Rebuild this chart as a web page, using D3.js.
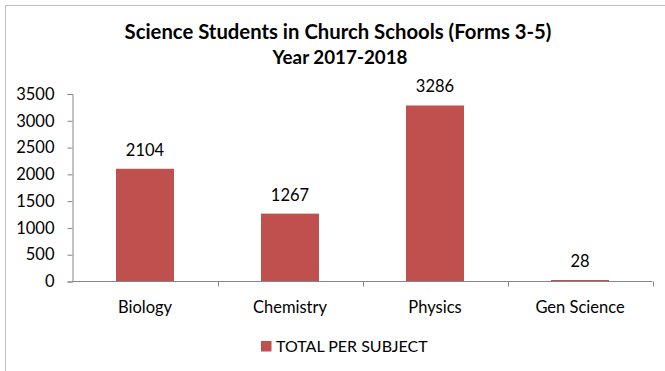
<!DOCTYPE html>
<html>
<head>
<meta charset="utf-8">
<script src="https://cdn.jsdelivr.net/npm/d3@7/dist/d3.min.js"></script>
<style>
  html, body { margin: 0; padding: 0; background: #fff; }
  svg { display: block; font-family: Lato, "Open Sans", sans-serif; }
</style>
</head>
<body>
<svg id="chart" width="665" height="371"></svg>
<script>
// Science students per subject, church schools, forms 3-5
const subjects = ["Biology", "Chemistry", "Physics", "Gen Science"];
const totals = [2104, 1267, 3286, 28];
const yTicks = [0, 500, 1000, 1500, 2000, 2500, 3000, 3500];
const seriesName = "TOTAL PER SUBJECT";
const titleLines = ["Science Students in Church Schools (Forms 3-5)", "Year 2017-2018"];

const barColor = "#C0504D";
const axisColor = "#868686";

const svg = d3.select("#chart");
const W = 665, H = 371;
const plot = { left: 72.5, right: 652.5, top: 94, bottom: 281.5 };

// chart frame (only top/left edges fall inside the view)
svg.append("rect")
  .attr("x", 5.5).attr("y", 5.5)
  .attr("width", W).attr("height", H)
  .attr("fill", "none").attr("stroke", "#BFBFBF").attr("stroke-width", 1);

// title
svg.append("text")
  .attr("x", 338).attr("y", 39)
  .attr("text-anchor", "middle")
  .attr("font-weight", "bold").attr("font-size", 20.3)
  .attr("fill", "#000")
  .text(titleLines[0]);
svg.append("text")
  .attr("x", 340).attr("y", 64)
  .attr("text-anchor", "middle")
  .attr("font-weight", "bold").attr("font-size", 18.8)
  .attr("fill", "#000")
  .text(titleLines[1]);

const x = d3.scaleBand()
  .domain(subjects)
  .range([plot.left, plot.right])
  .paddingInner(0.6)
  .paddingOuter(0.3);

const y = d3.scaleLinear()
  .domain([0, 3500])
  .range([plot.bottom, plot.top]);

// bars
svg.append("g").selectAll("rect")
  .data(subjects.map((s, i) => ({ s, v: totals[i] })))
  .join("rect")
  .attr("x", d => x(d.s))
  .attr("y", d => y(d.v))
  .attr("width", x.bandwidth())
  .attr("height", d => y(0) - y(d.v))
  .attr("fill", barColor);

// value labels
svg.append("g").selectAll("text")
  .data(subjects.map((s, i) => ({ s, v: totals[i] })))
  .join("text")
  .attr("x", d => x(d.s) + x.bandwidth() / 2)
  .attr("y", d => y(d.v) - 13)
  .attr("text-anchor", "middle")
  .attr("font-size", 16.5)
  .attr("fill", "#000")
  .text(d => d.v);

// y axis
const yAxis = d3.axisLeft(y).tickValues(yTicks).tickFormat(d3.format("d")).tickSize(5).tickPadding(13);
const gy = svg.append("g").attr("transform", `translate(${plot.left},0)`).call(yAxis);
gy.select(".domain").attr("stroke", axisColor);
gy.selectAll(".tick line").attr("stroke", axisColor);
gy.selectAll(".tick text")
  .attr("font-size", 16.5).attr("fill", "#000")
  .attr("font-family", "Lato, sans-serif");

// x axis with boundary ticks between categories
const gx = svg.append("g").attr("transform", `translate(0,${plot.bottom})`);
gx.append("line")
  .attr("x1", plot.left).attr("x2", plot.right)
  .attr("y1", 0).attr("y2", 0)
  .attr("stroke", axisColor);
const step = x.step();
const bounds = d3.range(subjects.length + 1).map(i => plot.left + i * step);
gx.selectAll("line.bt")
  .data(bounds.slice(1))
  .join("line")
  .attr("class", "bt")
  .attr("x1", d => Math.round(d) + 0.5).attr("x2", d => Math.round(d) + 0.5)
  .attr("y1", 0).attr("y2", 5)
  .attr("stroke", axisColor);
gx.selectAll("text")
  .data(subjects)
  .join("text")
  .attr("x", d => x(d) + x.bandwidth() / 2)
  .attr("y", 31)
  .attr("text-anchor", "middle")
  .attr("font-size", 16.5)
  .attr("fill", "#000")
  .text(d => d);

// legend
const lg = svg.append("g").attr("transform", "translate(261,341)");
lg.append("rect").attr("width", 10.5).attr("height", 10.5).attr("fill", barColor);
lg.append("text")
  .attr("x", 15).attr("y", 11)
  .attr("font-size", 16)
  .attr("fill", "#000")
  .text(seriesName);
</script>
</body>
</html>
